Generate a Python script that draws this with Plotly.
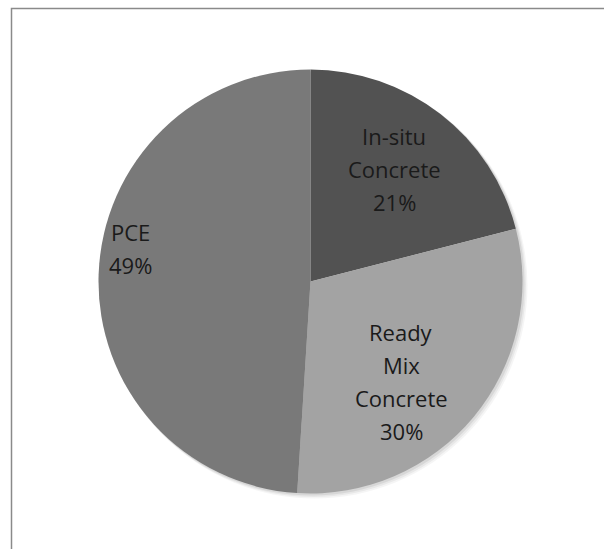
import plotly.graph_objects as go

labels = ["In-situ Concrete", "Ready Mix Concrete", "PCE"]
values = [21, 30, 49]
colors = ["#525252", "#a3a3a3", "#797979"]
label_lines = [["In-situ", "Concrete", "21%"], ["Ready", "Mix", "Concrete", "30%"], ["PCE", "49%"]]
label_px = [(394, 136), (401, 332), (130, 232)]  # position of first line centre
line_step = 33

W, H = 604, 549
cx, cy, r = 310.5, 281.5, 212

fig = go.Figure(go.Pie(
    labels=labels, values=values, sort=False, direction="clockwise", rotation=0,
    marker=dict(colors=colors, line=dict(width=0)),
    textinfo="none", hoverinfo="label+percent", showlegend=False,
    domain=dict(x=[(cx - r) / W, (cx + r) / W], y=[(H - cy - r) / H, (H - cy + r) / H]),
))

# soft shadow around the pie
for d, a in [(5, 0.04), (3.5, 0.05), (2, 0.07)]:
    fig.add_shape(type="circle", xref="paper", yref="paper", layer="below",
                  x0=(cx - r + d * 0.6) / W, x1=(cx + r + d) / W,
                  y0=1 - (cy + r + d) / H, y1=1 - (cy - r + d * 0.6) / H,
                  line=dict(width=0), fillcolor=f"rgba(0,0,0,{a})")

for lines, (px, py) in zip(label_lines, label_px):
    for i, t in enumerate(lines):
        fig.add_annotation(x=px / W, y=1 - (py + i * line_step) / H, xref="paper", yref="paper", text=t,
                           showarrow=False, xanchor="center", yanchor="middle",
                           font=dict(family="Open Sans", size=22, color="#1a1a1a"))

fig.add_shape(type="rect", xref="paper", yref="paper", x0=11.5 / W, x1=1.05, y0=-0.05, y1=1 - 8.5 / H,
              line=dict(color="#8a8a8a", width=1.5), fillcolor="rgba(0,0,0,0)")

fig.update_layout(width=W, height=H, margin=dict(l=0, r=0, t=0, b=0),
                  paper_bgcolor="white", plot_bgcolor="white")
fig.write_html("out.html")
